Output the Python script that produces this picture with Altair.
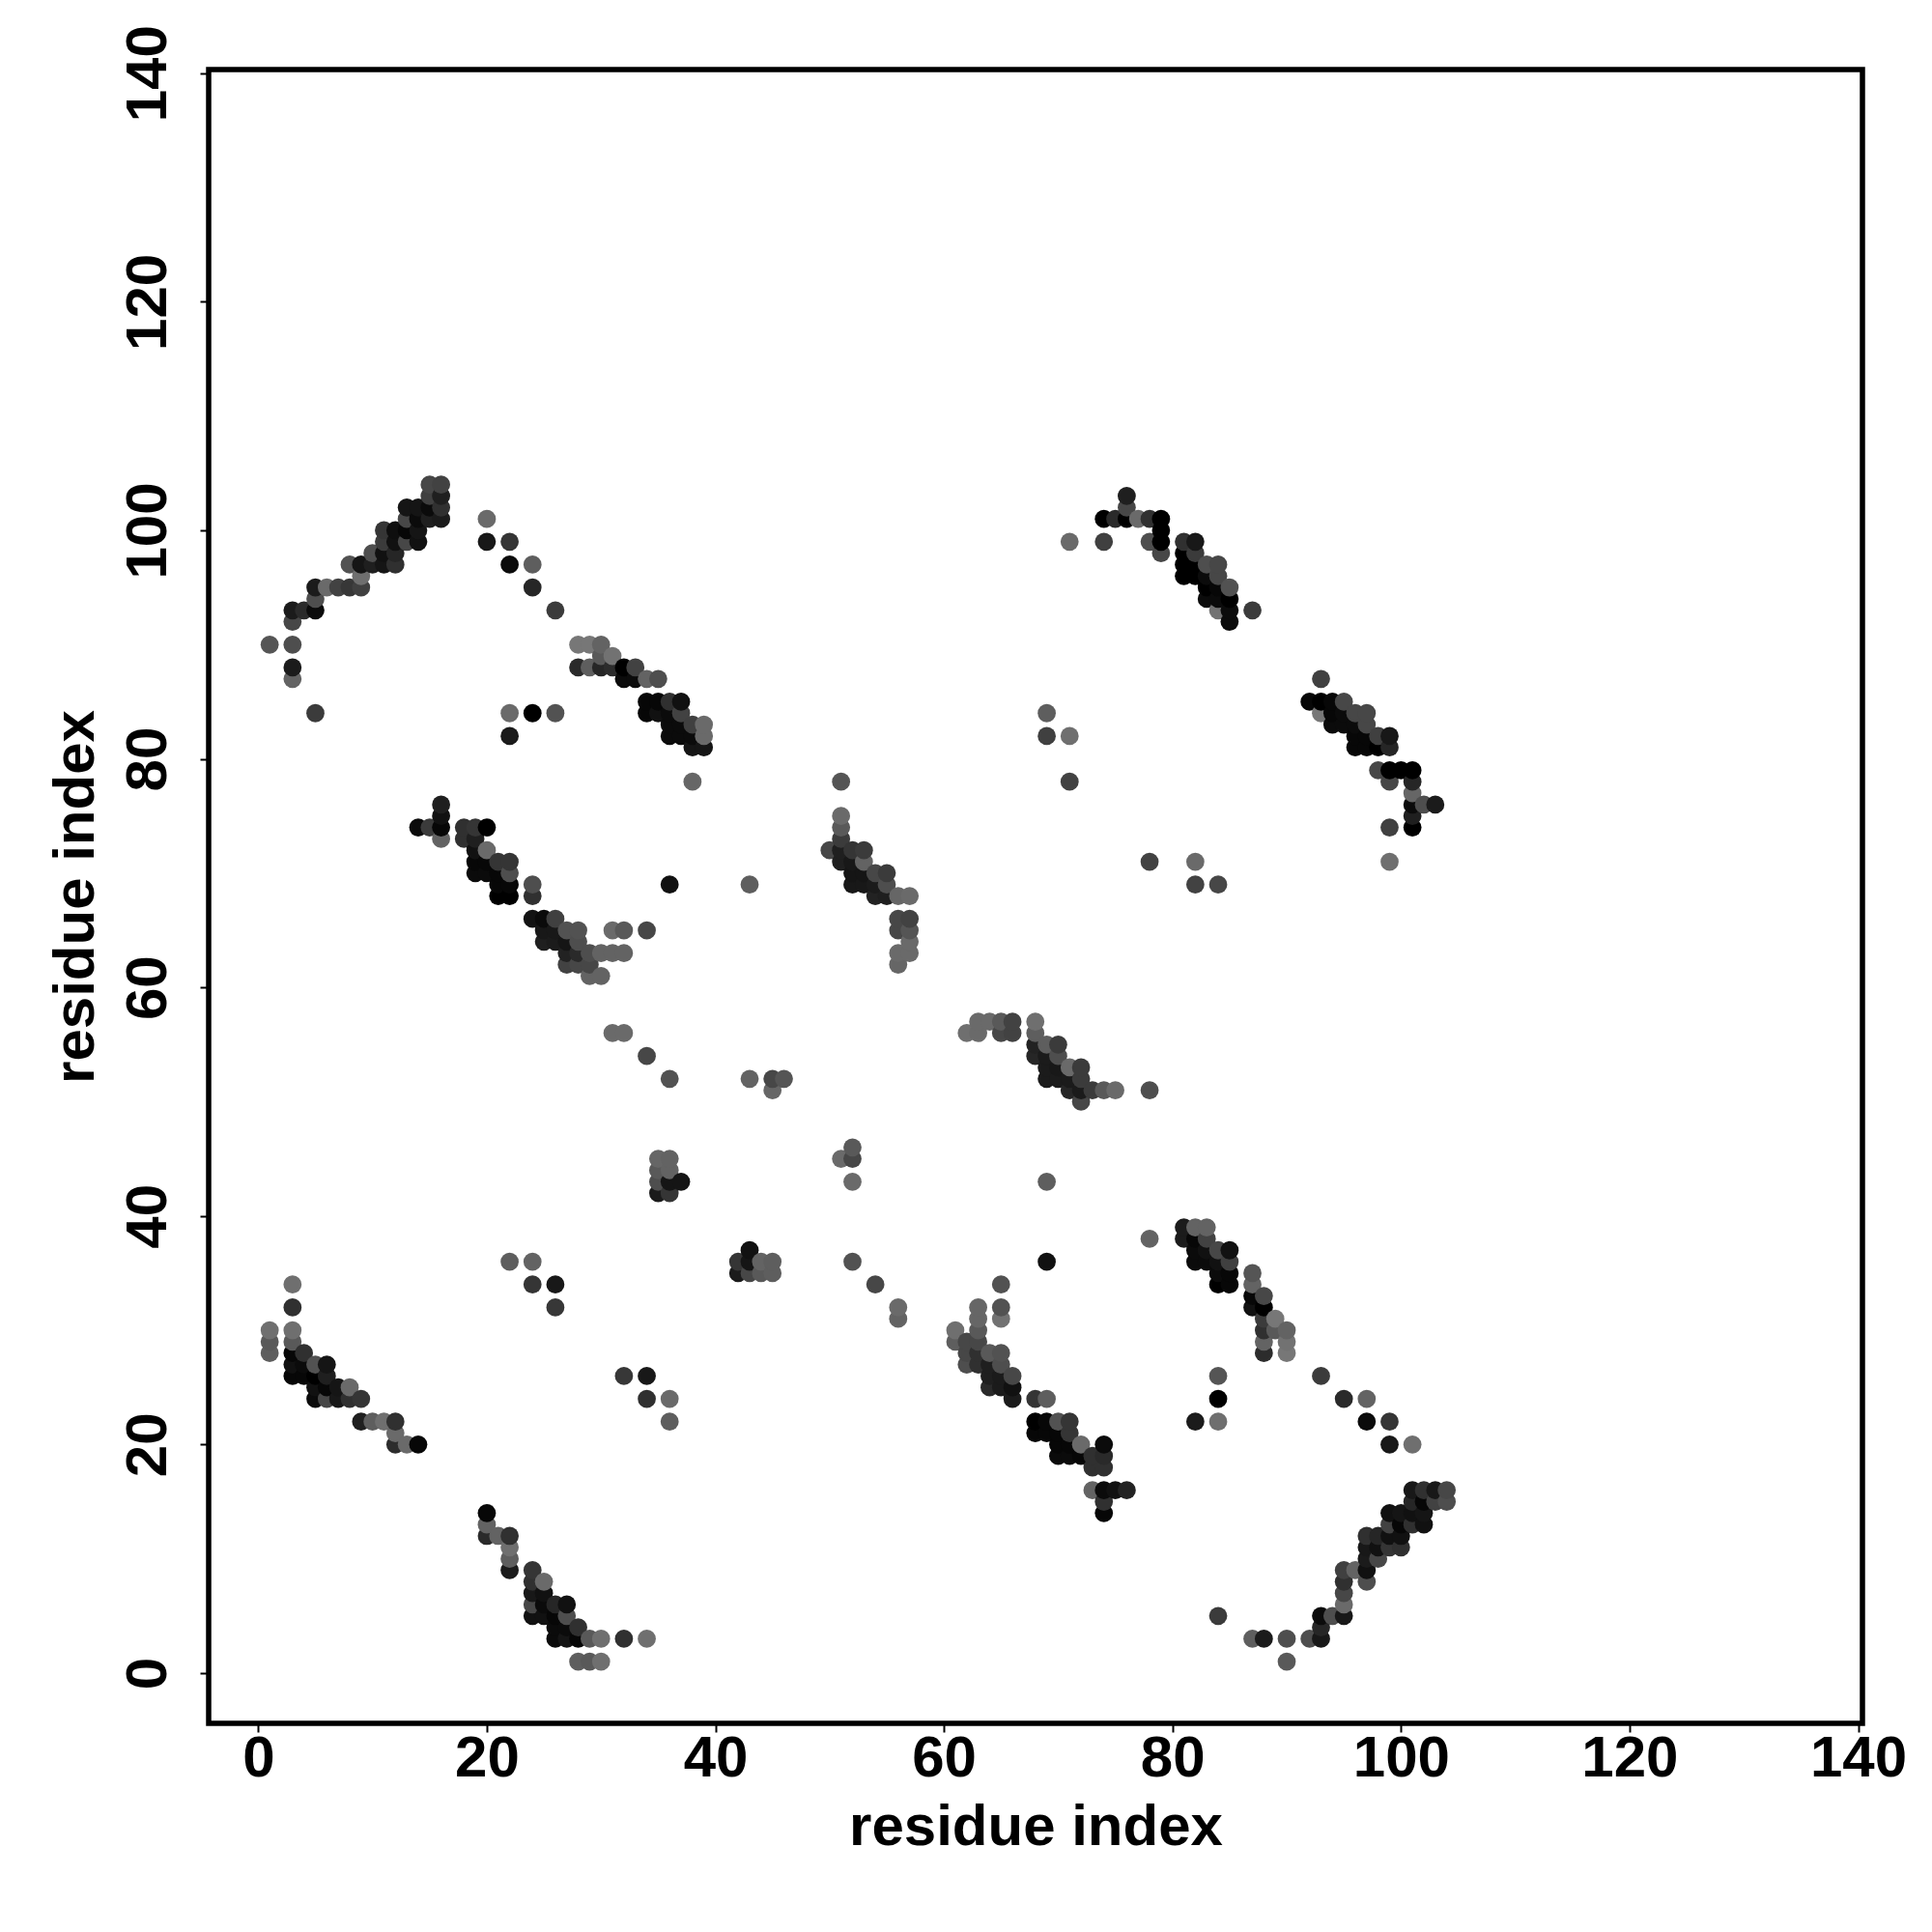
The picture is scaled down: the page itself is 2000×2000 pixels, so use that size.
import altair as alt
import pandas as pd

# each triple: residue x, residue y, grey level (0 black .. 1 white)
band_top_left = [
(15,104,.30),(16,104,.28),(15,103,.27),(16,103,.12),(13,102,.07),(14,102,.07),(15,102,.03),(16,102,.20),
(13,101,.30),(14,101,.03),(15,101,.12),(16,101,.10),(11,100,.22),(12,100,.04),(13,100,.02),(14,100,.07),
(11,99,.25),(12,99,.05),(13,99,.30),(14,99,.05),(10,98,.33),(11,98,.05),(12,98,.15),
(8,97,.35),(9,97,.07),(10,97,.12),(11,97,.07),(12,97,.20),(9,96,.47),
(5,95,.10),(6,95,.45),(7,95,.28),(8,95,.23),(9,95,.27),(5,94,.33),(3,93,.10),(4,93,.17),(5,93,.03),(3,92,.30),
(1,90,.36),(3,90,.33),(3,88,.10),(3,87,.42),(5,84,.25),(22,84,.45),(24,84,.00),(26,84,.35),(22,82,.10),
(20,101,.45),(20,99,.08),(22,99,.22),(22,97,.03),(24,97,.40),(24,95,.15),(26,93,.25),
]
band_top_mid = [
(28,90,.50),(29,90,.50),(30,90,.42),(30,89,.38),(31,89,.48),(28,88,.17),(29,88,.40),(30,88,.15),(31,88,.18),
(32,88,.00),(33,88,.28),(32,87,.03),(33,87,.03),(34,87,.42),(35,87,.33),(34,85,.02),(35,85,.02),(36,85,.20),(37,85,.05),
(34,84,.02),(35,84,.05),(36,84,.03),(37,84,.28),(36,83,.03),(37,83,.03),(38,83,.27),(39,83,.45),
(36,82,.03),(37,82,.03),(38,82,.03),(39,82,.45),(38,81,.07),(39,81,.07),(38,78,.43),
]
band_mid_left = [
(16,76,.12),(16,75,.05),(14,74,.03),(15,74,.25),(16,74,.02),(18,74,.20),(19,74,.22),(20,74,.00),(16,73,.42),(18,73,.20),(19,73,.12),
(19,72,.05),(20,72,.45),(19,71,.02),(20,71,.02),(21,71,.22),(22,71,.22),(19,70,.03),(20,70,.03),(21,70,.02),(22,70,.33),
(21,69,.02),(22,69,.02),(24,69,.33),(36,69,.05),(43,69,.40),(21,68,.00),(22,68,.00),(24,68,.20),
(24,66,.06),(25,66,.03),(26,66,.27),(25,65,.08),(26,65,.08),(27,65,.35),(28,65,.35),(31,65,.45),(32,65,.38),(34,65,.30),
(25,64,.12),(26,64,.10),(27,64,.07),(28,64,.33),(27,63,.13),(28,63,.17),(29,63,.33),(30,63,.42),(31,63,.42),(32,63,.42),
(27,62,.28),(28,62,.30),(29,62,.30),(29,61,.42),(30,61,.42),(31,56,.45),(32,56,.45),(34,54,.30),
(36,52,.35),(43,52,.42),(45,52,.30),(46,52,.36),(45,51,.43),
]
band_mid_centre = [
(51,78,.36),(71,78,.28),(51,75,.45),(51,74,.38),(51,73,.25),(50,72,.30),(51,72,.12),(52,72,.22),(53,72,.25),
(51,71,.12),(52,71,.08),(53,71,.42),(52,70,.07),(53,70,.07),(54,70,.30),(55,70,.25),(52,69,.08),(53,69,.08),(54,69,.10),(55,69,.33),
(54,68,.13),(55,68,.12),(56,68,.43),(57,68,.45),(56,66,.30),(57,66,.28),(56,65,.30),(57,65,.36),(57,64,.45),
(56,63,.45),(57,63,.45),(56,62,.43),(78,71,.28),(82,71,.45),(82,69,.28),(84,69,.30),
(63,57,.45),(64,57,.45),(65,57,.38),(66,57,.28),(68,57,.47),(62,56,.47),(63,56,.45),(65,56,.30),(66,56,.28),(68,56,.40),
(68,55,.13),(69,55,.40),(70,55,.25),(68,54,.15),(69,54,.10),(70,54,.33),(69,53,.10),(70,53,.08),(71,53,.45),(72,53,.25),
(69,52,.10),(70,52,.10),(71,52,.10),(72,52,.25),(71,51,.15),(72,51,.10),(73,51,.25),(74,51,.38),(75,51,.45),(78,51,.33),(72,50,.30),
]
band_centre = [
(35,45,.43),(36,45,.42),(35,44,.38),(36,44,.42),(35,43,.33),(36,43,.07),(37,43,.07),(35,42,.10),(36,42,.22),
(52,46,.38),(51,45,.45),(52,45,.30),(52,43,.45),(43,37,.05),(42,36,.22),(43,36,.07),(44,36,.42),(45,36,.40),(52,36,.35),
(42,35,.10),(43,35,.30),(44,35,.38),(45,35,.40),(54,34,.30),(56,32,.45),(56,31,.42),(69,43,.40),(69,36,.05),
]
band_low_left = [
(22,36,.40),(24,36,.42),(3,34,.47),(24,34,.22),(26,34,.08),(3,32,.20),(26,32,.23),(1,30,.47),(3,30,.47),(1,29,.38),(3,29,.38),
(1,28,.40),(3,28,.02),(4,28,.20),(3,27,.05),(4,27,.03),(5,27,.35),(6,27,.07),(3,26,.02),(4,26,.02),(5,26,.00),(6,26,.12),
(5,25,.05),(6,25,.02),(7,25,.07),(8,25,.45),(5,24,.03),(6,24,.30),(7,24,.08),(8,24,.20),(9,24,.22),
(9,22,.12),(10,22,.40),(11,22,.47),(12,22,.20),(12,21,.45),(12,20,.18),(13,20,.45),(14,20,.02),
(32,26,.23),(34,26,.08),(34,24,.20),(36,24,.45),(36,22,.40),
(20,14,.02),(20,13,.42),(20,12,.17),(21,12,.42),(22,12,.20),(22,11,.47),(22,10,.40),(22,9,.10),(24,9,.22),
(24,8,.20),(25,8,.45),(24,7,.08),(25,7,.05),(24,6,.30),(25,6,.03),(26,6,.15),(27,6,.05),
(24,5,.05),(25,5,.05),(26,5,.02),(27,5,.33),(26,4,.03),(27,4,.03),(28,4,.20),
(26,3,.03),(27,3,.07),(28,3,.02),(29,3,.38),(30,3,.47),(32,3,.20),(34,3,.47),(28,1,.40),(29,1,.38),(30,1,.47),
]
band_low_right = [
(81,39,.10),(82,39,.42),(83,39,.42),(78,38,.42),(81,38,.10),(82,38,.02),(83,38,.28),(82,37,.03),(83,37,.05),(84,37,.30),(85,37,.05),
(82,36,.03),(83,36,.03),(84,36,.05),(85,36,.27),(84,35,.03),(85,35,.02),(87,35,.36),(84,34,.00),(85,34,.02),(87,34,.42),
(87,33,.02),(88,33,.30),(87,32,.05),(88,32,.00),(88,31,.25),(89,31,.50),(88,30,.20),(89,30,.38),(90,30,.42),
(88,29,.42),(90,29,.48),(88,28,.18),(90,28,.50),(84,26,.36),(93,26,.25),(84,24,.00),(95,24,.17),(97,24,.42),
(82,22,.10),(84,22,.47),(97,22,.03),(99,22,.22),(99,20,.08),(101,20,.47),
(101,16,.08),(102,16,.20),(103,16,.08),(104,16,.30),(101,15,.15),(102,15,.02),(103,15,.28),(104,15,.33),
(99,14,.05),(100,14,.07),(101,14,.05),(102,14,.07),(99,13,.28),(100,13,.02),(101,13,.20),(102,13,.05),
(97,12,.20),(98,12,.15),(99,12,.05),(100,12,.05),(97,11,.08),(98,11,.05),(99,11,.22),(100,11,.20),(97,10,.10),(98,10,.30),
(95,9,.27),(96,9,.42),(97,9,.05),(95,8,.20),(97,8,.33),(95,7,.30),(95,6,.45),(84,5,.25),(93,5,.03),(94,5,.33),(95,5,.08),
(93,4,.15),(87,3,.40),(88,3,.10),(90,3,.33),(92,3,.33),(93,3,.08),(90,1,.38),
]
band_low_centre = [
(65,34,.35),(65,32,.35),(65,31,.48),(63,32,.43),(63,31,.43),(63,30,.38),(61,30,.47),(61,29,.40),(62,29,.30),(63,29,.30),
(62,28,.30),(63,28,.20),(64,28,.38),(65,28,.35),(62,27,.33),(63,27,.20),(64,27,.12),(65,27,.33),
(64,26,.12),(65,26,.10),(66,26,.30),(64,25,.17),(65,25,.10),(66,25,.05),(66,24,.10),(68,24,.22),(69,24,.40),
(68,22,.00),(69,22,.02),(70,22,.35),(71,22,.22),(68,21,.02),(69,21,.02),(70,21,.02),(71,21,.22),
(70,20,.02),(71,20,.02),(72,20,.45),(74,20,.03),(70,19,.03),(71,19,.03),(72,19,.02),(73,19,.20),(74,19,.17),(73,18,.20),(74,18,.20),
(73,16,.42),(74,16,.03),(75,16,.05),(76,16,.13),(74,15,.20),(74,14,.02),
]
band_top_right = [
(76,103,.12),(76,102,.30),(74,101,.00),(75,101,.17),(76,101,.00),(77,101,.45),(78,101,.20),(79,101,.00),(79,100,.00),
(71,99,.45),(74,99,.27),(78,99,.33),(79,99,.00),(81,99,.20),(82,99,.08),(79,98,.30),(81,98,.00),(82,98,.25),
(81,97,.00),(82,97,.00),(83,97,.33),(84,97,.30),(81,96,.00),(82,96,.00),(83,96,.03),(84,96,.30),
(83,95,.00),(84,95,.02),(85,95,.35),(83,94,.03),(84,94,.03),(85,94,.00),(84,93,.48),(85,93,.03),(87,93,.25),(85,92,.03),
(93,87,.27),(92,85,.02),(93,85,.00),(94,85,.02),(95,85,.30),(93,84,.50),(94,84,.02),(95,84,.03),(96,84,.30),(97,84,.30),
(94,83,.03),(95,83,.03),(96,83,.03),(97,83,.30),(96,82,.02),(97,82,.02),(98,82,.27),(99,82,.08),
(96,81,.02),(97,81,.02),(98,81,.00),(99,81,.15),(98,79,.30),(99,79,.00),(100,79,.00),(101,79,.00),(99,78,.30),(101,78,.15),
(101,77,.43),(101,76,.03),(102,76,.33),(103,76,.10),(101,75,.12),(99,74,.27),(101,74,.00),(99,71,.47),
(69,84,.40),(69,82,.27),(71,82,.47),(71,78,.28),
]
tick_values = [0, 20, 40, 60, 80, 100, 120, 140]
axis_title = "residue index"

rows = (band_top_left + band_top_mid + band_mid_left + band_mid_centre + band_centre
        + band_low_left + band_low_right + band_low_centre + band_top_right)
df = pd.DataFrame(rows, columns=["x", "y", "grey"]).drop_duplicates(["x", "y"]).sort_values(["x", "y"])

FONT = "Liberation Sans"
base_axis = dict(
    values=tick_values, title=axis_title, grid=False, domain=False,
    ticks=True, tickColor="black", tickWidth=2, tickSize=9,
    labelFont=FONT, labelFontWeight="bold", labelFontSize=60, labelColor="black",
    labelOverlap=False, labelFlush=False, labelBound=False,
    titleFont=FONT, titleFontWeight="bold", titleFontSize=60, titleColor="black",
)

chart = (
    alt.Chart(df)
    .mark_circle(size=352, opacity=1)
    .encode(
        x=alt.X("x:Q", scale=alt.Scale(domain=[-4.34, 140.38], nice=False, zero=False),
                axis=alt.Axis(labelPadding=-2, titlePadding=12, **base_axis)),
        y=alt.Y("y:Q", scale=alt.Scale(domain=[-4.4, 140.32], nice=False, zero=False),
                axis=alt.Axis(labelAngle=270, labelAlign="center", labelBaseline="bottom",
                              labelPadding=23, titlePadding=14, **base_axis)),
        color=alt.Color("grey:Q", legend=None,
                        scale=alt.Scale(domain=[0, 1], range=["#000000", "#ffffff"])),
    )
    .properties(
        width=1712, height=1712, background="white",
        autosize=alt.AutoSizeParams(type="none"),
        padding={"left": 208, "top": 64, "right": 60, "bottom": 200},
    )
    .configure_view(stroke="black", strokeWidth=5.5)
)

chart.save("out.html", embed_options={"renderer": "svg", "actions": False})
